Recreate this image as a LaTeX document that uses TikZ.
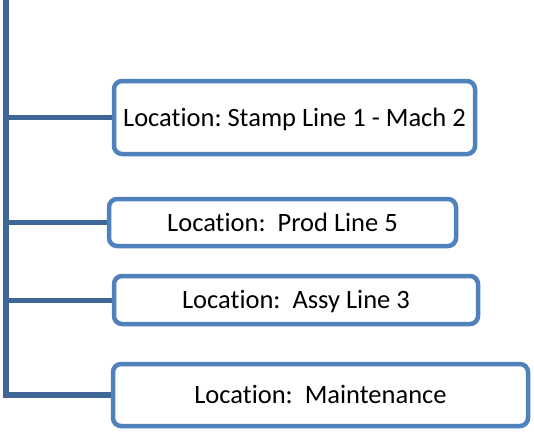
\documentclass[tikz,border=0pt]{standalone}
\usepackage{fontspec}
\setmainfont{Carlito}[Ligatures={NoCommon,NoRequired,NoContextual}]
\frenchspacing
\begin{document}
\begin{tikzpicture}[x=1pt,y=-1pt,
  locbox/.style={draw=boxblue, line width=4.5pt, rounded corners=8pt, fill=white,
    inner sep=0pt, text height=17pt, text depth=0pt, align=center,
    font=\fontsize{26.5}{30}\selectfont},
  trunkline/.style={draw=trunkblue, line width=5.5pt},
  branchline/.style={draw=trunkblue, line width=5pt}]
\definecolor{boxblue}{RGB}{79,129,189}
\definecolor{trunkblue}{RGB}{62,102,152}
\useasboundingbox (0,0) rectangle (534,445);
% boxes (centre, width, height between stroke centres)
\node[locbox, minimum width=361pt, minimum height=73pt] (b1) at (294.5,117.5) {Location: Stamp Line 1 - Mach 2};
\node[locbox, minimum width=347pt, minimum height=47pt] (b2) at (282.5,222.5) {Location:\ \ Prod Line 5};
\node[locbox, minimum width=364pt, minimum height=48pt] (b3) at (296,300) {Location:\ \ Assy Line 3};
\node[locbox, minimum width=415pt, minimum height=62pt] (b4) at (320.5,395) {Location:\ \ Maintenance};
\coordinate (top) at (6,-5);
% trunk and branches
\draw[trunkline, line join=miter] (top) |- (b4.west);
\draw[branchline] (top |- b1.west) -- (b1.west);
\draw[branchline] (top |- b2.west) -- (b2.west);
\draw[branchline] (top |- b3.west) -- (b3.west);
\end{tikzpicture}
\end{document}
